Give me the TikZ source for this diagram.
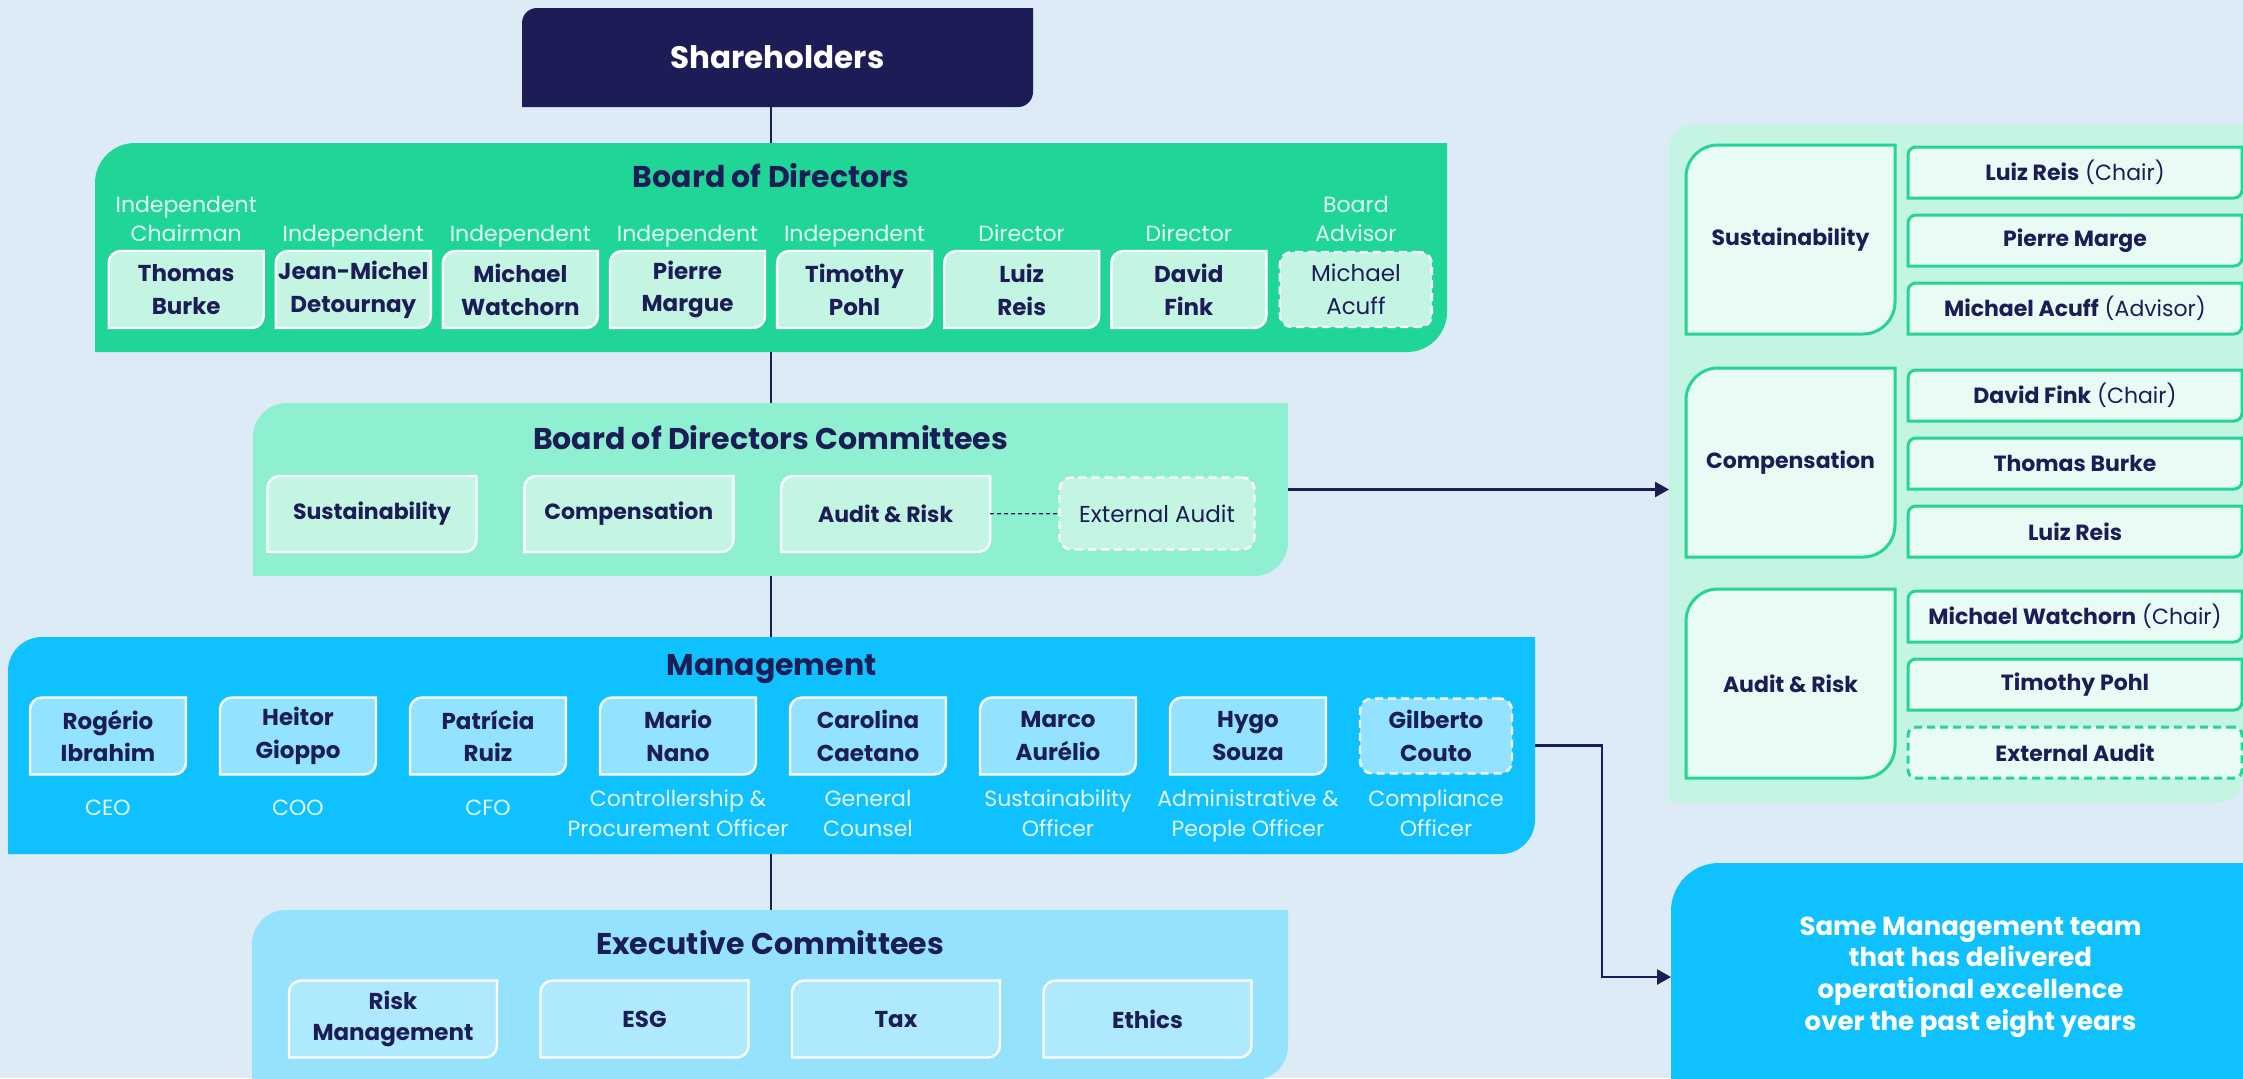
\documentclass[tikz,border=0pt]{standalone}
\usepackage{fontspec}
\setmainfont{Poppins}
\usetikzlibrary{arrows.meta}

% colours
\definecolor{pagebg}{RGB}{221,235,246}
\definecolor{navy}{RGB}{28,29,86}
\definecolor{boardgreen}{RGB}{32,214,150}
\definecolor{mint}{RGB}{195,245,226}
\definecolor{commgreen}{RGB}{142,240,208}
\definecolor{palemint}{RGB}{232,251,244}
\definecolor{edgegreen}{RGB}{38,212,148}
\definecolor{mgmtblue}{RGB}{16,193,255}
\definecolor{skyblue}{RGB}{147,226,255}
\definecolor{execblue}{RGB}{148,226,252}
\definecolor{paleblue}{RGB}{174,233,253}
\definecolor{greenlabel}{RGB}{228,251,242}
\definecolor{bluelabel}{RGB}{228,247,255}

\pgfdeclarelayer{back}
\pgfdeclarelayer{mid}
\pgfsetlayers{back,mid,main}

% outline of a node with the top left and bottom right corners rounded
\newcommand{\diagbox}[3]{%
  \path[#1] (#2.south west) -- ([yshift=-#3]#2.north west)
    arc[start angle=180, end angle=90, radius=#3] -- (#2.north east)
    -- ([yshift=#3]#2.south east)
    arc[start angle=0, end angle=-90, radius=#3] -- cycle;}

\begin{document}
\begin{tikzpicture}[x=0.5pt, y=-0.5pt]
    % --- styles ---
    \tikzstyle{area}=[inner sep=0pt, outer sep=0pt]
    \tikzstyle{box}=[inner sep=0pt, outer sep=0pt, align=center, text=navy]
    \tikzstyle{title}=[anchor=base, text=navy, font=\bfseries\fontsize{15}{18}\selectfont]
    \tikzstyle{namefont}=[font=\bfseries\fontsize{11.5}{16.4}\selectfont]
    \tikzstyle{plainfont}=[font=\fontsize{11.5}{16.4}\selectfont]
    \tikzstyle{boardrole}=[anchor=base, align=center, text=greenlabel, font=\fontsize{11}{14.4}\selectfont]
    \tikzstyle{mgmtrole}=[anchor=base, align=center, text=bluelabel, font=\fontsize{11}{14.7}\selectfont]
    \tikzstyle{dashbox}=[box, line width=1.2pt, dash pattern=on 4pt off 2.5pt, rounded corners=6pt]
    \tikzstyle{spine}=[navy, line width=0.75pt]
    \tikzstyle{arrowstyle}=[-{Triangle[length=7pt,width=7.5pt]}, navy, line width=1.3pt]
    \tikzstyle{dotline}=[navy, line width=0.6pt, dash pattern=on 2pt off 1.5pt]

    \useasboundingbox (0,0) rectangle (2243,1078);
    \begin{pgfonlayer}{back}
        \fill[pagebg] (0,0) rectangle (2243,1078);
    \end{pgfonlayer}
    \coordinate (spine) at (771,0);

    % 1. Shareholders
    \node[box, minimum width=255.5pt, minimum height=49.5pt, text=white,
          font=\bfseries\fontsize{15.5}{18}\selectfont] (share) at (777.5,57.5) {Shareholders};

    % 2. Board of Directors
    \node[area, minimum width=676pt, minimum height=104.5pt] (board) at (771,247.5) {};
    \node[title] (boardtitle) at (771,187) {Board of Directors};
    \foreach \i/\role/\name in {0/{Independent\\Chairman}/{Thomas\\Burke},
            1/Independent/{Jean-Michel\\Detournay}, 2/Independent/{Michael\\Watchorn},
            3/Independent/{Pierre\\Margue}, 4/Independent/{Timothy\\Pohl},
            5/Director/{Luiz\\Reis}, 6/Director/{David\\Fink}}{
        \node[box, namefont, minimum width=77.5pt, minimum height=38.5pt] (bm\i) at ({186.2+167.1*\i},289.5) {\name};
        \node[boardrole] (br\i) at ({186.2+167.1*\i},241) {\role};
    }
    \node[dashbox, draw=white, fill=mint, plainfont, minimum width=76pt, minimum height=37.5pt] (bm7) at (1355.9,289.5) {Michael\\Acuff};
    \node[boardrole] (br7) at (1355.9,241) {Board\\Advisor};

    % 3. Board of Directors Committees
    \node[area, minimum width=517.5pt, minimum height=86.5pt] (bcom) at (770.5,489.5) {};
    \node[title] (bcomtitle) at (770.5,449) {Board of Directors Committees};
    \foreach \i/\name in {0/Sustainability, 1/Compensation, 2/{Audit \& Risk}}{
        \node[box, font=\bfseries\fontsize{11}{15}\selectfont, minimum width=104.5pt, minimum height=38pt] (cm\i) at ({372+256.8*\i},514) {\name};
    }
    \node[dashbox, draw=white, fill=mint, plainfont, minimum width=97.5pt, minimum height=36pt] (cm3) at (1157,513.5) {External Audit};
    \draw[dotline] (cm2) -- (cm3);

    % 4. Management
    \node[area, minimum width=763.5pt, minimum height=108.5pt] (mgmt) at (771.5,745.5) {};
    \node[title] (mgmttitle) at (771.5,675) {Management};
    \foreach \i/\name/\ry/\role in {0/{Rogério\\Ibrahim}/815/CEO, 1/{Heitor\\Gioppo}/815/COO,
            2/{Patrícia\\Ruiz}/815/CFO, 3/{Mario\\Nano}/836/{Controllership \&\\Procurement Officer},
            4/{Carolina\\Caetano}/836/{General\\Counsel}, 5/{Marco\\Aurélio}/836/{Sustainability\\Officer},
            6/{Hygo\\Souza}/836/{Administrative \&\\People Officer}}{
        \node[box, namefont, minimum width=78pt, minimum height=38.5pt] (mm\i) at ({108+190*\i},736) {\name};
        \node[mgmtrole] (mr\i) at ({108+190*\i},\ry) {\role};
    }
    \node[dashbox, draw=white, fill=skyblue, namefont, minimum width=76pt, minimum height=37.5pt] (mm7) at (1436,736) {Gilberto\\Couto};
    \node[mgmtrole] (mr7) at (1436,836) {Compliance\\Officer};

    % 5. Executive Committees
    \node[area, minimum width=518pt, minimum height=85pt] (exec) at (770,995) {};
    \node[title] (exectitle) at (770,954) {Executive Committees};
    \foreach \i/\name in {0/{Risk\\Management}, 1/ESG, 2/Tax, 3/Ethics}{
        \node[box, font=\bfseries\fontsize{11.5}{15.8}\selectfont, minimum width=104pt, minimum height=38.5pt] (em\i) at ({393+251.5*\i},1019) {\name};
    }

    % 6. committee members on the right
    \node[area, minimum width=287pt, minimum height=338.5pt] (panel) at (1956,463.5) {};
    \foreach \g/\gy/\name in {0/239.5/Sustainability, 1/462.5/Compensation, 2/683.5/{Audit \& Risk}}{
        \node[box, font=\bfseries\fontsize{11}{15}\selectfont, minimum width=104.5pt, minimum height=94.5pt] (grp\g) at (1790.5,\gy) {\name};
    }
    \foreach \m/\my/\name in {1/172.5/{\textbf{Luiz Reis} (Chair)}, 2/240.5/{\textbf{Pierre Marge}},
            3/308.5/{\textbf{Michael Acuff} (Advisor)}, 4/395.5/{\textbf{David Fink} (Chair)},
            5/463.5/{\textbf{Thomas Burke}}, 6/531.5/{\textbf{Luiz Reis}},
            7/616.5/{\textbf{Michael Watchorn} (Chair)}, 8/684.5/{\textbf{Timothy Pohl}}}{
        \node[box, font=\fontsize{11}{15}\selectfont, minimum width=167pt, minimum height=25.5pt] (pm\m) at (2075,\my) {\name};
    }
    \node[dashbox, draw=edgegreen, line width=1.5pt, rounded corners=4pt, fill=palemint, font=\bfseries\fontsize{11}{15}\selectfont,
          minimum width=167pt, minimum height=25.5pt] (pm9) at (2075,752.5) {External Audit};

    % 7. note on the management team
    \node[box, text=white, minimum width=299.5pt, minimum height=114pt,
          font=\bfseries\fontsize{13}{15.85}\selectfont] (same) at (1970.5,977)
          {Same Management team\\that has delivered\\operational excellence\\over the past eight years};

    % 8. filled shapes behind the text
    \begin{pgfonlayer}{back}
        \diagbox{fill=navy}{share}{7.5pt}
        \diagbox{fill=boardgreen}{board}{20pt}
        \diagbox{fill=commgreen}{bcom}{17pt}
        \diagbox{fill=mgmtblue}{mgmt}{17pt}
        \diagbox{fill=execblue}{exec}{17pt}
        \diagbox{fill=mint}{panel}{12pt}
        \diagbox{fill=mgmtblue}{same}{24pt}
    \end{pgfonlayer}
    \begin{pgfonlayer}{mid}
        \foreach \i in {0,...,6} {\diagbox{fill=mint, draw=white, line width=1.2pt}{bm\i}{6pt}}
        \foreach \i in {0,1,2} {\diagbox{fill=mint, draw=white, line width=1.2pt}{cm\i}{6pt}}
        \foreach \i in {0,...,6} {\diagbox{fill=skyblue, draw=white, line width=1.2pt}{mm\i}{6pt}}
        \foreach \i in {0,...,3} {\diagbox{fill=paleblue, draw=white, line width=1.2pt}{em\i}{6pt}}
        \foreach \g in {0,1,2} {\diagbox{fill=palemint, draw=edgegreen, line width=1.5pt}{grp\g}{16pt}}
        \foreach \m in {1,...,8} {\diagbox{fill=palemint, draw=edgegreen, line width=1.5pt}{pm\m}{4pt}}
    \end{pgfonlayer}

    % 9. connectors
    \draw[spine] (share.south -| spine) -- (board.north -| spine);
    \draw[spine] (board.south -| spine) -- (bcom.north -| spine);
    \draw[spine] (bcom.south -| spine) -- (mgmt.north -| spine);
    \draw[spine] (mgmt.south -| spine) -- (exec.north -| spine);
    \draw[arrowstyle] (bcom.east) -- (bcom.east -| panel.west);
    \draw[arrowstyle] (mgmt.east) -- ++(67,0) |- (same.west);

\end{tikzpicture}
\end{document}
